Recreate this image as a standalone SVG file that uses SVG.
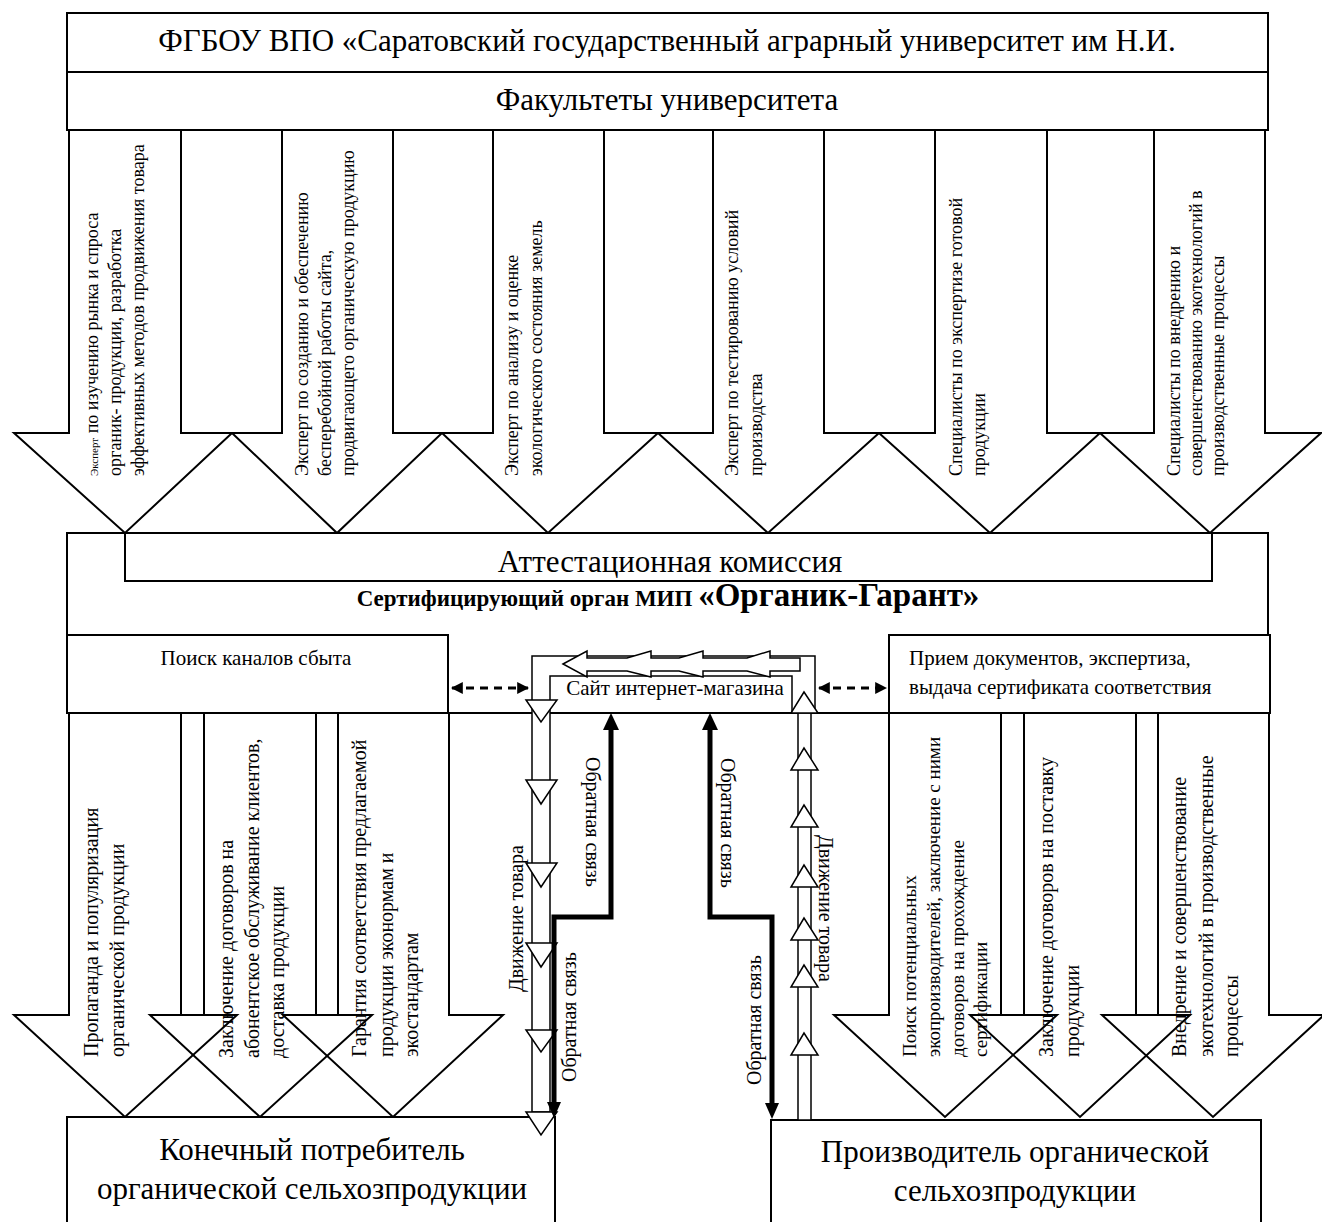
<svg xmlns="http://www.w3.org/2000/svg" width="1322" height="1222" viewBox="0 0 1322 1222">
<style>
text{font-family:"Liberation Serif","Times New Roman",serif;fill:#000}
.box{fill:#fff;stroke:#000;stroke-width:2}
.arr{fill:none;stroke:#000;stroke-width:2;stroke-linejoin:miter}
.t31{font-size:31px}
.t21{font-size:21px}
.t20{font-size:20px}
.t19{font-size:19px}
.t18{font-size:18px}
.band{fill:#fff;stroke:#000;stroke-width:1.5}
.fb{fill:none;stroke:#000;stroke-width:5}
.dash{fill:none;stroke:#000;stroke-width:3;stroke-dasharray:8 6}
</style>
<defs>
<marker id="ah" viewBox="0 0 10 10" refX="9" refY="5" markerWidth="4" markerHeight="4" orient="auto-start-reverse"><path d="M0,0L10,5L0,10Z" fill="#000"/></marker>
</defs>

<g id="university">
<rect class="box" x="67" y="13" width="1201" height="117"/>
<line x1="67" y1="72" x2="1268" y2="72" stroke="#000" stroke-width="2"/>
<text class="t31" x="667" y="51" text-anchor="middle">ФГБОУ ВПО «Саратовский государственный аграрный университет им Н.И.</text>
<text class="t31" x="667" y="110" text-anchor="middle">Факультеты университета</text>
</g>

<g id="expert-arrows">
<g id="expert1"><polygon class="arr" points="69,130 181,130 181,433 232,433 125,533 14,433 69,433"/>
<g transform="translate(98,476) rotate(-90)"><text class="t18"><tspan x="0" y="0"><tspan font-size="11">Эксперт</tspan> по изучению рынка и спроса</tspan><tspan x="0" y="23">органик- продукции, разработка</tspan><tspan x="0" y="46">эффективных методов продвижения товара</tspan></text></g></g>
<g id="expert2"><polygon class="arr" points="282,130 393,130 393,433 442,433 337,533 232,433 282,433"/>
<g transform="translate(308,476) rotate(-90)"><text class="t18"><tspan x="0" y="0">Эксперт по созданию и обеспечению</tspan><tspan x="0" y="23">бесперебойной работы сайта,</tspan><tspan x="0" y="46">продвигающего органическую продукцию</tspan></text></g></g>
<g id="expert3"><polygon class="arr" points="493,130 604,130 604,433 658,433 548,533 442,433 493,433"/>
<g transform="translate(518,476) rotate(-90)"><text class="t18"><tspan x="0" y="0">Эксперт по анализу и оценке</tspan><tspan x="0" y="24">экологического состояния земель</tspan></text></g></g>
<g id="expert4"><polygon class="arr" points="713,130 824,130 824,433 879,433 768,533 658,433 713,433"/>
<g transform="translate(738,476) rotate(-90)"><text class="t18"><tspan x="0" y="0">Эксперт по тестированию условий</tspan><tspan x="0" y="24">производства</tspan></text></g></g>
<g id="expert5"><polygon class="arr" points="935,130 1047,130 1047,433 1100,433 990,533 879,433 935,433"/>
<g transform="translate(962,476) rotate(-90)"><text class="t18"><tspan x="0" y="0">Специалисты по экспертизе готовой</tspan><tspan x="0" y="23">продукции</tspan></text></g></g>
<g id="expert6"><polygon class="arr" points="1154,130 1265,130 1265,433 1321,433 1210,533 1100,433 1154,433"/>
<g transform="translate(1180,476) rotate(-90)"><text class="t18"><tspan x="0" y="0">Специалисты по внедрению и</tspan><tspan x="0" y="22">совершенствованию экотехнологий в</tspan><tspan x="0" y="44">производственные процессы</tspan></text></g></g>
</g>

<g id="certification-body">
<rect class="box" x="67" y="533" width="1201" height="180"/>
<rect class="box" x="125" y="533" width="1087" height="48"/>
<text class="t31" x="670" y="572" text-anchor="middle">Аттестационная комиссия</text>
<text x="668" y="606" text-anchor="middle" font-weight="bold"><tspan font-size="23">Сертифицирующий орган МИП </tspan><tspan font-size="33">«Органик-Гарант»</tspan></text>
</g>

<g id="sales-search">
<rect class="box" x="67" y="635" width="381" height="78"/>
<text class="t21" x="256" y="665" text-anchor="middle">Поиск каналов сбыта</text>
</g>

<g id="documents">
<rect class="box" x="889" y="635" width="381" height="78"/>
<text class="t21" x="909" y="665">Прием документов, экспертиза,</text>
<text class="t21" x="909" y="694">выдача сертификата соответствия</text>
</g>

<g id="consumer-arrows">
<g id="task-a"><polygon class="arr" points="69,713 181,713 181,1015 237,1015 125,1117 14,1015 69,1015"/>
<g transform="translate(98,1057) rotate(-90)"><text class="t20"><tspan x="0" y="0">Пропаганда и популяризация</tspan><tspan x="0" y="26">органической продукции</tspan></text></g></g>
<g id="task-b"><polygon class="arr" points="204,713 316,713 316,1015 372,1015 260,1117 150,1015 204,1015"/>
<g transform="translate(233,1058) rotate(-90)"><text class="t20"><tspan x="0" y="0">Заключение договоров на</tspan><tspan x="0" y="26">абонентское обслуживание клиентов,</tspan><tspan x="0" y="51">доставка продукции</tspan></text></g></g>
<g id="task-c"><polygon class="arr" points="338,713 449,713 449,1015 503,1015 393,1117 283,1015 338,1015"/>
<g transform="translate(366,1057) rotate(-90)"><text class="t20"><tspan x="0" y="0">Гарантия соответствия предлагаемой</tspan><tspan x="0" y="27">продукции эконормам и</tspan><tspan x="0" y="52">экостандартам</tspan></text></g></g>
</g>

<g id="producer-arrows">
<g id="task-d"><polygon class="arr" points="889,713 1001,713 1001,1015 1057,1015 945,1117 834,1015 889,1015"/>
<g transform="translate(916,1057) rotate(-90)"><text class="t19"><tspan x="0" y="0">Поиск потенциальных</tspan><tspan x="0" y="24">экопроизводителей, заключение с ними</tspan><tspan x="0" y="48">договоров на прохождение</tspan><tspan x="0" y="71">сертификации</tspan></text></g></g>
<g id="task-e"><polygon class="arr" points="1024,713 1136,713 1136,1015 1190,1015 1080,1117 970,1015 1024,1015"/>
<g transform="translate(1053,1057) rotate(-90)"><text class="t20"><tspan x="0" y="0">Заключение договоров на  поставку</tspan><tspan x="0" y="26">продукции</tspan></text></g></g>
<g id="task-f"><polygon class="arr" points="1158,713 1269,713 1269,1015 1324,1015 1213,1117 1102,1015 1158,1015"/>
<g transform="translate(1186,1057) rotate(-90)"><text class="t20"><tspan x="0" y="0">Внедрение и совершенствование</tspan><tspan x="0" y="27">экотехнологий в производственные</tspan><tspan x="0" y="52">процессы</tspan></text></g></g>
</g>

<g id="consumer">
<rect class="box" x="67" y="1117" width="488" height="130"/>
<text class="t31" x="312" y="1160" text-anchor="middle">Конечный потребитель</text>
<text class="t31" x="312" y="1199" text-anchor="middle">органической сельхозпродукции</text>
</g>

<g id="producer">
<rect class="box" x="771" y="1120" width="490" height="130"/>
<text class="t31" x="1015" y="1162" text-anchor="middle">Производитель органической</text>
<text class="t31" x="1015" y="1201" text-anchor="middle">сельхозпродукции</text>
</g>

<g id="website">
<polygon class="band" points="532,1112 532,656 815,656 815,713 792,713 792,676 550,676 550,1112"/>
<text class="t21" x="675" y="695" text-anchor="middle">Сайт интернет-магазина</text>
<rect class="band" x="798" y="713" width="13" height="407"/>
</g>

<g id="connectors">
<path class="dash" d="M452,688 H528" marker-start="url(#ah)" marker-end="url(#ah)"/>
<path class="dash" d="M819,688 H886" marker-start="url(#ah)" marker-end="url(#ah)"/>
<g class="band">
<polygon points="563,664 587,651 587,658 627,658 651,651 651,658 679,658 703,651 703,658 747,658 770,651 770,658 800,658 800,671 770,671 770,677 747,671 703,671 703,677 679,671 651,671 651,677 627,671 587,671 587,677"/>
<polygon points="526,700 557,700 541,722"/>
<polygon points="526,780 557,780 541,804"/>
<polygon points="526,863 557,863 541,887"/>
<polygon points="526,943 557,943 541,967"/>
<polygon points="526,1030 557,1030 541,1052"/>
<polygon points="526,1112 557,1112 541,1135"/>
<polygon points="791,713 818,713 804,692"/>
<polygon points="791,770 818,770 804,748"/>
<polygon points="791,827 818,827 804,805"/>
<polygon points="791,887 818,887 804,865"/>
<polygon points="791,940 818,940 804,918"/>
<polygon points="791,987 818,987 804,965"/>
<polygon points="791,1055 818,1055 804,1033"/>
</g>
<path class="fb" d="M611,728 V917 H554 V1104"/>
<polygon points="611,713 603,730 619,730"/>
<polygon points="554,1118 547,1102 561,1102"/>
<path class="fb" d="M710,728 V917 H772 V1104"/>
<polygon points="710,713 702,730 718,730"/>
<polygon points="772,1119 765,1103 779,1103"/>
<g transform="translate(586,757) rotate(90)"><text class="t20">Обратная связь</text></g>
<g transform="translate(721,758) rotate(90)"><text class="t20">Обратная связь</text></g>
<g transform="translate(819,835) rotate(90)"><text class="t20">Движение товара</text></g>
<g transform="translate(523,992) rotate(-90)"><text class="t20">Движение товара</text></g>
<g transform="translate(576,1082) rotate(-90)"><text class="t20">Обратная связь</text></g>
<g transform="translate(761,1085) rotate(-90)"><text class="t20">Обратная связь</text></g>
</g>
</svg>
